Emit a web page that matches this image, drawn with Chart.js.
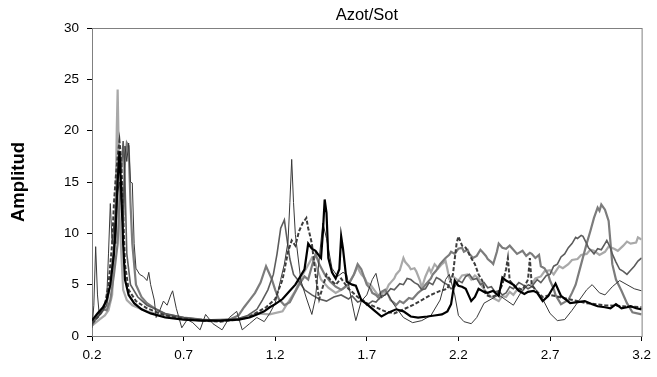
<!DOCTYPE html>
<html>
<head>
<meta charset="utf-8">
<script src="https://cdn.jsdelivr.net/npm/chart.js@4"></script>
<style>
  body { margin: 0; background: #fff; }
  #wrap { width: 657px; height: 377px; }
</style>
</head>
<body>
<div id="wrap"><canvas id="ampChart" width="657" height="377"></canvas></div>
<script>
const chartTitle = "Azot/Sot";
const yTitle = "Amplitud";
const xTicks = [0.2, 0.7, 1.2, 1.7, 2.2, 2.7, 3.2];
const yTicks = [0, 5, 10, 15, 20, 25, 30];

// [frequency, amplitude]
const blackLine = [[0.20,1.5],[0.23,2.2],[0.26,2.8],[0.28,3.5],[0.30,5],[0.32,8],[0.33,11],[0.34,15],[0.35,18],[0.36,14],[0.37,9],[0.38,5.5],[0.40,4],[0.43,3.2],[0.47,2.6],[0.52,2.2],[0.6,1.8],[0.7,1.6],[0.8,1.5],[0.9,1.5],[1.0,1.6],[1.06,1.8],[1.1,2.1],[1.14,2.4],[1.17,2.8],[1.2,3.1],[1.24,3.6],[1.28,4.4],[1.31,5.0],[1.33,5.6],[1.36,6.5],[1.38,9.0],[1.40,8.5],[1.42,8.3],[1.44,7.8],[1.45,7.6],[1.46,10],[1.47,13.3],[1.48,12],[1.49,7.6],[1.51,6.2],[1.53,5.6],[1.55,6.5],[1.56,9.7],[1.57,8.5],[1.59,5.3],[1.62,5.0],[1.64,4.9],[1.67,3.5],[1.70,3.1],[1.74,2.5],[1.78,1.9],[1.82,2.3],[1.86,2.6],[1.90,2.4],[1.94,1.9],[1.98,1.8],[2.03,1.9],[2.07,2.0],[2.11,2.1],[2.14,2.4],[2.16,3.1],[2.18,5.4],[2.20,4.9],[2.22,4.8],[2.24,4.6],[2.27,3.4],[2.29,3.8],[2.31,4.6],[2.34,4.3],[2.36,4.2],[2.39,4.4],[2.42,3.9],[2.44,5.7],[2.46,5.4],[2.48,5.2],[2.50,5.0],[2.53,4.4],[2.56,4.1],[2.58,4.3],[2.61,4.4],[2.63,4.2],[2.66,3.4],[2.69,3.9],[2.71,4.5],[2.73,5.1],[2.76,3.9],[2.79,3.5],[2.81,3.2],[2.85,3.3],[2.89,3.4],[2.93,3.1],[2.96,2.9],[3.00,2.8],[3.03,2.7],[3.06,3.1],[3.09,2.7],[3.12,2.8],[3.14,2.9],[3.17,2.7],[3.20,2.6]];

const dashedLine = [[0.2,1.2],[0.24,2],[0.27,3],[0.29,5],[0.31,9],[0.32,13],[0.33,15.5],[0.34,17.5],[0.35,19],[0.36,17],[0.37,12],[0.38,7],[0.40,4.5],[0.44,3.4],[0.5,2.7],[0.6,2.0],[0.7,1.7],[0.8,1.5],[0.9,1.4],[1.0,1.6],[1.05,1.8],[1.1,2.3],[1.15,2.8],[1.2,3.6],[1.24,5.5],[1.27,8.2],[1.29,9.3],[1.31,8.8],[1.33,10.2],[1.35,11.0],[1.37,11.5],[1.38,10.5],[1.39,9.8],[1.40,9.0],[1.42,6.0],[1.44,3.6],[1.46,4.8],[1.48,6.0],[1.50,5.5],[1.53,5.0],[1.56,5.6],[1.6,4.6],[1.65,3.8],[1.7,3.2],[1.75,2.8],[1.8,2.4],[1.85,2.2],[1.9,2.6],[1.95,3.0],[2.0,3.5],[2.05,4.0],[2.1,4.4],[2.14,4.6],[2.17,6.0],[2.19,9.0],[2.20,9.7],[2.22,8.8],[2.24,8.6],[2.27,7.6],[2.29,7.0],[2.31,6.0],[2.33,5.4],[2.35,4.0],[2.38,3.8],[2.41,4.0],[2.44,5.0],[2.46,6.5],[2.47,7.6],[2.48,5.4],[2.51,4.8],[2.55,4.5],[2.58,5.5],[2.59,7.6],[2.60,5.0],[2.63,4.3],[2.66,3.8],[2.7,4.0],[2.8,3.6],[2.9,3.2],[3.0,3.0],[3.1,2.9],[3.2,2.8]];

const midGrayLine = [[0.2,1.0],[0.23,2.0],[0.26,2.6],[0.28,2.5],[0.3,3.5],[0.32,6],[0.34,9],[0.35,13],[0.36,15],[0.37,11],[0.38,17],[0.39,18.8],[0.40,18.5],[0.41,13],[0.42,9],[0.44,5],[0.47,3.8],[0.5,3.2],[0.55,2.6],[0.6,2.1],[0.7,1.8],[0.8,1.6],[0.9,1.5],[0.95,1.6],[1.0,2.0],[1.03,2.8],[1.06,3.5],[1.09,4.2],[1.12,5.2],[1.15,6.8],[1.18,5.6],[1.2,4.5],[1.22,3.6],[1.25,3.0],[1.28,3.3],[1.3,4.0],[1.33,5.0],[1.36,5.8],[1.38,5.5],[1.40,6.8],[1.42,8.0],[1.44,7.0],[1.47,6.0],[1.5,5.3],[1.53,4.8],[1.56,4.5],[1.6,5.0],[1.63,6.0],[1.65,7.0],[1.67,6.5],[1.7,5.0],[1.72,4.6],[1.73,4.2],[1.75,4.0],[1.76,3.8],[1.78,4.3],[1.8,4.5],[1.82,3.9],[1.83,3.5],[1.85,3.2],[1.86,3.0],[1.88,3.4],[1.9,3.2],[1.93,3.7],[1.95,3.6],[1.98,4.2],[2.0,4.5],[2.02,5.0],[2.03,5.2],[2.05,5.6],[2.06,6.0],[2.08,6.4],[2.1,7.0],[2.12,7.4],[2.13,7.6],[2.15,7.9],[2.16,8.2],[2.18,8.0],[2.2,8.5],[2.22,8.6],[2.23,8.2],[2.25,8.4],[2.26,8.0],[2.28,7.6],[2.3,7.8],[2.32,8.4],[2.33,8.2],[2.35,7.8],[2.36,7.5],[2.38,7.2],[2.39,7.0],[2.41,8.2],[2.42,9.0],[2.44,8.6],[2.46,8.5],[2.48,8.8],[2.5,8.4],[2.52,8.0],[2.53,8.1],[2.55,8.3],[2.57,7.8],[2.59,8.1],[2.6,8.0],[2.62,7.6],[2.64,7.9],[2.65,6.8],[2.67,6.6],[2.69,6.0],[2.7,5.4],[2.72,4.6],[2.73,4.0],[2.75,3.4],[2.76,3.1],[2.78,3.3],[2.8,3.5],[2.82,4.2],[2.84,5.0],[2.87,7.0],[2.9,9.0],[2.92,10.2],[2.94,11.5],[2.96,12.5],[2.97,12.2],[2.98,12.8],[3.0,12.3],[3.02,11.2],[3.04,7.0],[3.06,5.5],[3.09,4.4],[3.12,3.2],[3.15,2.3],[3.2,2.1]];

const lightGrayLine = [[0.2,1.0],[0.24,1.6],[0.27,2.0],[0.29,2.5],[0.31,4],[0.32,8],[0.33,14],[0.335,20],[0.34,24],[0.345,19],[0.35,12],[0.36,8],[0.37,4.5],[0.39,3.5],[0.42,3.0],[0.5,2.4],[0.6,1.9],[0.7,1.7],[0.8,1.5],[0.9,1.6],[1.0,1.7],[1.05,1.9],[1.1,2.2],[1.17,2.1],[1.24,2.4],[1.31,4.4],[1.35,6.0],[1.37,6.6],[1.40,7.6],[1.42,7.0],[1.45,5.5],[1.49,4.7],[1.53,4.2],[1.57,4.6],[1.60,5.1],[1.63,6.0],[1.65,6.8],[1.66,6.3],[1.67,6.0],[1.69,5.6],[1.70,5.2],[1.72,5.0],[1.74,4.5],[1.76,4.0],[1.77,3.7],[1.79,4.3],[1.80,4.2],[1.82,5.0],[1.83,5.2],[1.85,5.6],[1.86,6.0],[1.88,6.4],[1.90,7.6],[1.91,7.2],[1.93,6.8],[1.94,6.5],[1.96,6.6],[1.97,6.3],[1.99,5.4],[2.0,4.7],[2.02,5.8],[2.04,6.6],[2.05,6.2],[2.07,7.0],[2.09,6.6],[2.11,7.0],[2.13,7.3],[2.14,6.5],[2.15,5.6],[2.17,5.8],[2.2,5.4],[2.22,5.9],[2.25,6.0],[2.27,5.5],[2.29,5.9],[2.31,5.6],[2.33,4.8],[2.36,4.1],[2.38,3.8],[2.42,3.4],[2.44,3.9],[2.46,3.8],[2.48,4.3],[2.5,4.0],[2.52,4.5],[2.55,4.4],[2.57,4.9],[2.6,5.0],[2.62,5.6],[2.65,5.8],[2.67,6.3],[2.7,6.4],[2.72,6.0],[2.75,6.8],[2.77,6.6],[2.8,7.0],[2.82,7.4],[2.85,7.5],[2.87,7.9],[2.9,8.0],[2.92,8.4],[2.94,8.3],[2.97,7.9],[3.0,8.2],[3.02,8.7],[3.05,8.5],[3.07,8.3],[3.1,8.8],[3.12,9.2],[3.14,9.0],[3.17,9.1],[3.18,9.6],[3.2,9.4]];

const thinLine = [[0.2,0.8],[0.21,3],[0.22,8.7],[0.23,4],[0.24,2.0],[0.26,2.5],[0.28,3.5],[0.29,8],[0.30,12.9],[0.31,9],[0.32,11],[0.33,9],[0.34,14],[0.35,15],[0.36,13],[0.37,10],[0.38,18.5],[0.39,17],[0.40,18.8],[0.41,15],[0.42,14.9],[0.43,9],[0.44,6.6],[0.46,6.0],[0.48,5.8],[0.5,5.4],[0.51,6.2],[0.52,5.0],[0.54,3.5],[0.55,1.8],[0.57,2.5],[0.59,3.4],[0.61,3.0],[0.63,4.0],[0.64,4.4],[0.66,2.7],[0.69,0.8],[0.72,1.6],[0.75,1.3],[0.79,0.6],[0.82,2.1],[0.86,1.2],[0.91,0.6],[0.95,1.8],[0.99,2.4],[1.02,0.6],[1.06,1.2],[1.1,1.8],[1.14,1.4],[1.17,2.2],[1.2,3.2],[1.23,5.5],[1.25,7.0],[1.27,9.2],[1.28,13],[1.29,17.2],[1.30,13],[1.31,9.9],[1.34,5.4],[1.37,3.7],[1.40,2.1],[1.42,3.7],[1.44,7.5],[1.46,11.0],[1.48,9.5],[1.51,6.6],[1.54,5.8],[1.57,6.2],[1.59,6.0],[1.62,3.2],[1.64,1.5],[1.67,3.4],[1.70,4.0],[1.73,5.5],[1.75,6.1],[1.78,3.7],[1.81,4.2],[1.85,3.0],[1.9,1.8],[1.95,1.3],[2.0,1.5],[2.05,2.0],[2.1,3.5],[2.13,5.5],[2.15,6.0],[2.18,4.0],[2.2,2.0],[2.23,1.4],[2.27,1.2],[2.3,1.8],[2.34,3.2],[2.38,3.6],[2.42,4.0],[2.46,3.5],[2.5,3.0],[2.54,4.2],[2.58,5.0],[2.62,4.6],[2.66,3.6],[2.7,2.2],[2.74,1.5],[2.78,1.6],[2.82,2.5],[2.86,3.5],[2.9,4.5],[2.93,5.0],[2.97,4.2],[3.0,4.0],[3.04,4.8],[3.08,5.4],[3.12,5.0],[3.16,4.6],[3.2,4.4]];

const darkGrayLine = [[0.2,1.3],[0.25,2.2],[0.28,3.0],[0.3,5],[0.32,9],[0.34,16],[0.35,18],[0.36,16],[0.37,19],[0.38,15],[0.39,8],[0.41,5],[0.45,3.8],[0.5,3.0],[0.55,2.6],[0.6,2.2],[0.7,1.8],[0.8,1.6],[0.9,1.5],[1.0,1.7],[1.05,2.0],[1.1,2.6],[1.13,3.5],[1.16,4.5],[1.19,6],[1.21,8],[1.23,10.5],[1.25,11.3],[1.26,10],[1.28,7.5],[1.30,6.0],[1.33,5.3],[1.36,4.5],[1.40,4.0],[1.44,3.6],[1.48,3.4],[1.52,3.8],[1.56,4.0],[1.6,3.6],[1.62,3.9],[1.65,3.3],[1.68,3.5],[1.7,3.0],[1.73,3.4],[1.75,3.3],[1.78,3.9],[1.8,4.0],[1.83,4.6],[1.85,4.5],[1.88,5.1],[1.9,5.0],[1.92,5.6],[1.94,5.5],[1.96,5.2],[1.98,5.0],[2.0,4.5],[2.02,4.6],[2.04,5.2],[2.06,5.0],[2.08,5.7],[2.1,5.5],[2.12,5.2],[2.14,5.0],[2.16,4.6],[2.18,4.8],[2.2,5.4],[2.22,5.2],[2.24,5.8],[2.26,6.0],[2.28,5.5],[2.3,5.6],[2.32,5.0],[2.34,5.2],[2.36,4.7],[2.38,4.8],[2.4,4.3],[2.42,4.4],[2.44,4.0],[2.46,4.2],[2.48,4.8],[2.5,4.6],[2.53,5.2],[2.55,5.0],[2.58,4.6],[2.6,4.8],[2.63,5.5],[2.65,5.2],[2.68,5.9],[2.7,6.0],[2.72,6.8],[2.74,7.0],[2.76,7.7],[2.78,8.0],[2.8,8.6],[2.82,9.0],[2.84,9.6],[2.85,9.5],[2.87,9.8],[2.88,9.7],[2.9,9.0],[2.91,8.6],[2.93,8.2],[2.94,8.0],[2.96,8.5],[2.98,8.4],[3.0,9.0],[3.01,9.3],[3.03,8.6],[3.04,8.0],[3.06,7.2],[3.08,6.5],[3.1,6.3],[3.12,6.0],[3.14,6.4],[3.16,6.8],[3.18,7.3],[3.2,7.6]];

const toPoints = (arr) => arr.map(([x, y]) => ({ x: x, y: y }));
const fontFamily = "'Liberation Sans', Arial, sans-serif";

// plot area box (gray edges like the original) + title centred over the plot
const plotBox = {
  id: "plotBox",
  beforeDatasetsDraw(chart) {
    const a = chart.chartArea;
    const c = chart.ctx;
    c.save();
    c.strokeStyle = "#808080";
    c.lineWidth = 1;
    c.strokeRect(a.left + 0.5, a.top + 0.5, a.right - a.left, a.bottom - a.top);
    c.restore();
  },
  afterDraw(chart) {
    const a = chart.chartArea;
    const c = chart.ctx;
    c.save();
    c.fillStyle = "#000";
    c.font = "16.5px " + fontFamily;
    c.textAlign = "center";
    c.textBaseline = "middle";
    c.fillText(chartTitle, (a.left + a.right) / 2, 15);
    c.restore();
  },
};

const ctx = document.getElementById("ampChart").getContext("2d");
const ampChart = new Chart(ctx, {
  type: "line",
  data: {
    datasets: [
      { data: toPoints(blackLine), borderColor: "#000000", borderWidth: 2.2 },
      { data: toPoints(dashedLine), borderColor: "#3c3c3c", borderWidth: 2, borderDash: [4, 2] },
      { data: toPoints(thinLine), borderColor: "#383838", borderWidth: 1 },
      { data: toPoints(darkGrayLine), borderColor: "#5c5c5c", borderWidth: 1.6 },
      { data: toPoints(midGrayLine), borderColor: "#7c7c7c", borderWidth: 2.2 },
      { data: toPoints(lightGrayLine), borderColor: "#a9a9a9", borderWidth: 2.2 },
    ],
  },
  plugins: [plotBox],
  options: {
    responsive: false,
    animation: false,
    devicePixelRatio: 1,
    layout: { padding: { left: 0, right: 13, top: 28, bottom: 0 } },
    elements: {
      point: { radius: 0 },
      line: { tension: 0, fill: false },
    },
    plugins: {
      legend: { display: false },
      tooltip: { enabled: false },
      title: { display: false },
    },
    scales: {
      x: {
        type: "linear",
        min: 0.2,
        max: 3.2,
        afterBuildTicks: (scale) => {
          scale.ticks = xTicks.map((v) => ({ value: v }));
        },
        afterFit: (scale) => {
          scale.height = 41;
        },
        ticks: {
          color: "#000",
          padding: 6,
          maxRotation: 0,
          font: { family: fontFamily, size: 13.5 },
          callback: (v) => Number(v).toFixed(1),
        },
        grid: { drawOnChartArea: false, drawTicks: true, tickLength: 5, color: "#000" },
        border: { display: true, color: "#000", width: 1 },
      },
      y: {
        min: 0,
        max: 30,
        afterBuildTicks: (scale) => {
          scale.ticks = yTicks.map((v) => ({ value: v }));
        },
        afterFit: (scale) => {
          scale.width = 92;
        },
        ticks: {
          color: "#000",
          padding: 8,
          font: { family: fontFamily, size: 13.5 },
        },
        grid: { drawOnChartArea: false, drawTicks: true, tickLength: 5, color: "#000" },
        border: { display: true, color: "#000", width: 1 },
        title: {
          display: true,
          text: yTitle,
          color: "#000",
          font: { family: fontFamily, size: 18.5, weight: "bold" },
          padding: { top: 8, bottom: 0 },
        },
      },
    },
  },
});
</script>
</body>
</html>
